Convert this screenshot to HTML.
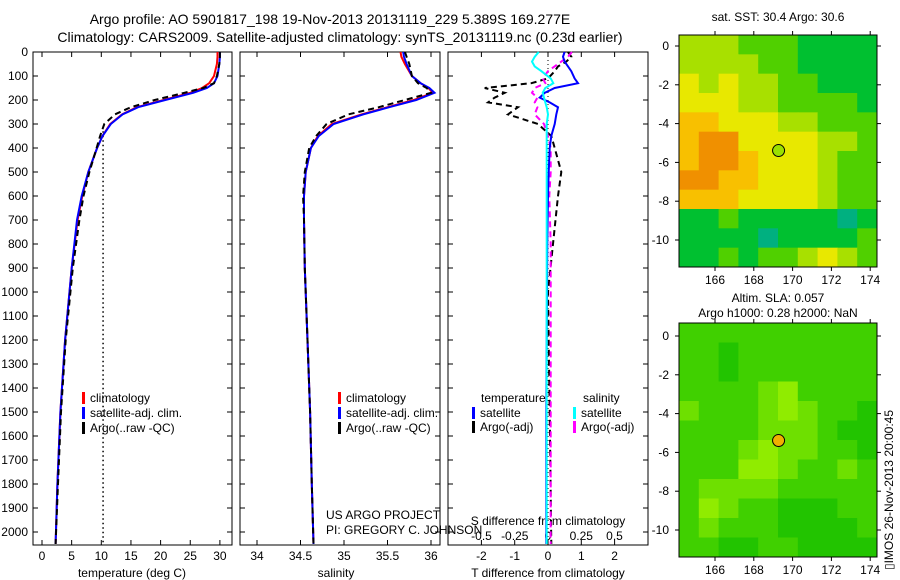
<!DOCTYPE html>
<html><head><meta charset="utf-8"><style>
body{margin:0;background:#fff;}
svg{display:block;font-family:"Liberation Sans",sans-serif;}
</style></head><body>
<svg id="c" width="900" height="580" viewBox="0 0 900 580">
<text x="330" y="24" font-size="14" text-anchor="middle">Argo profile: AO 5901817_198 19-Nov-2013 20131119_229 5.389S 169.277E</text>
<text x="340" y="42" font-size="14" text-anchor="middle">Climatology: CARS2009. Satellite-adjusted climatology: synTS_20131119.nc (0.23d earlier)</text>
<text x="132" y="577" font-size="12" text-anchor="middle">temperature (deg C)</text>
<text x="336" y="577" font-size="12" text-anchor="middle">salinity</text>
<text x="548" y="577" font-size="12" text-anchor="middle">T difference from climatology</text>
<text x="548" y="525" font-size="12" text-anchor="middle">S difference from climatology</text>
<text x="326" y="519" font-size="12">US ARGO PROJECT</text>
<text x="326" y="534" font-size="12">PI: GREGORY C. JOHNSON</text>
<text x="778" y="21" font-size="12" text-anchor="middle">sat. SST: 30.4 Argo: 30.6</text>
<text x="778" y="302" font-size="12" text-anchor="middle">Altim. SLA: 0.057</text>
<text x="778" y="317" font-size="12" text-anchor="middle">Argo h1000: 0.28 h2000: NaN</text>
<text transform="translate(893,570) rotate(-90)" font-size="12">▯IMOS 26-Nov-2013 20:00:45</text>
</svg>
<script>
// ---- data ----
const depthGrid=[0,20,50,100,130,150,170,200,230,260,300,350,400,500,600,700,900,1200,1500,1800,2050];
const tempClim=[29.6,29.6,29.5,29.0,28.2,27.0,25.0,20.5,16.0,13.5,11.5,10.2,9.3,7.8,6.8,6.0,5.0,3.9,3.1,2.6,2.3];
const tempSat=[30.0,30.0,29.9,29.6,29.0,27.8,25.5,20.8,16.2,13.6,11.6,10.2,9.3,7.8,6.7,5.9,5.0,3.9,3.1,2.6,2.3];
const tempArgo=[30.0,30.0,29.9,29.5,29.0,27.2,24.0,19.0,15.0,12.3,10.5,9.8,9.2,8.0,7.0,6.3,5.2,4.0,3.2,2.7,2.3];
const salClim=[35.65,35.66,35.70,35.78,35.88,35.97,36.02,35.80,35.50,35.20,34.86,34.70,34.62,34.56,34.54,34.54,34.55,34.58,34.61,34.63,34.65];
const salSat=[35.68,35.69,35.72,35.78,35.88,35.98,36.04,35.83,35.52,35.22,34.88,34.71,34.62,34.56,34.54,34.54,34.55,34.58,34.61,34.63,34.65];
const salArgo=[35.70,35.72,35.75,35.78,35.85,35.95,36.00,35.70,35.40,35.05,34.80,34.68,34.60,34.55,34.53,34.54,34.55,34.58,34.61,34.63,34.65];
const rawDepthTop=330, rawTemp=10.3;
const diffDepth=[0,20,40,60,80,110,130,150,170,190,210,230,260,300,350,400,500,600,800,1000,1500,2050];
const tDiffSat=[0.5,0.45,0.5,0.6,0.7,0.8,0.9,0.2,-0.1,-0.25,0.05,0.3,0.25,0.2,0.1,0.05,0.02,0.0,-0.02,-0.03,-0.05,-0.05];
const tDiffArgo=[0.6,0.7,0.55,0.3,0.2,0.0,-0.5,-1.9,-1.3,-1.6,-1.8,-0.9,-1.2,-0.3,0.1,0.2,0.4,0.3,0.15,0.0,0.05,0.1];
const sDiffSat=[-0.07,-0.1,-0.12,-0.1,-0.05,0.02,0.04,-0.02,-0.04,-0.03,-0.02,-0.01,0.0,-0.01,-0.01,-0.01,-0.01,-0.01,-0.01,-0.01,-0.01,-0.01];
const sDiffArgo=[0.18,0.15,0.1,0.05,0.0,-0.04,-0.02,-0.1,-0.12,-0.08,-0.1,-0.08,-0.1,-0.03,0.0,0.02,0.02,0.01,0.02,0.02,0.02,0.02];
const tempTicks=[0,5,10,15,20,25,30];
const salTicks=[34,34.5,35,35.5,36];
const tdTicks=[-2,-1,0,1,2];
const sdTicks=["-0.5","-0.25","0","0.25","0.5"];
const depthTicks=[0,100,200,300,400,500,600,700,800,900,1000,1100,1200,1300,1400,1500,1600,1700,1800,1900,2000];
const lonTicks=[166,168,170,172,174];
const latTicks=[0,-2,-4,-6,-8,-10];
const sstGrid=[
[2,2,2,1,1,1,0,0,0,0],[2,2,2,2,1,1,0,0,0,0],[3,2,3,2,2,1,1,0,0,0],[3,3,3,2,2,1,1,1,1,0],
[4,4,3,3,3,2,2,1,1,1],[4,5,5,3,3,3,3,2,2,1],[4,5,5,4,3,3,3,2,1,1],[5,5,4,4,3,3,3,2,1,1],
[4,4,4,3,3,3,3,2,1,1],[0,0,1,0,0,0,0,0,-1,0],[0,0,0,0,-1,0,0,0,0,1],[0,0,1,0,1,1,2,3,2,1]];
const slaGrid=[
[1,1,1,1,1,1,1,1,1,1],[1,1,0,1,1,1,1,1,1,1],[1,1,0,1,1,1,1,1,1,1],[1,1,1,1,2,3,1,1,1,1],
[2,1,1,1,2,3,2,1,1,0],[1,1,1,1,2,2,2,1,0,0],[1,1,1,2,3,2,2,1,1,0],[1,1,1,3,3,2,1,1,2,1],
[1,2,2,2,2,1,1,1,1,1],[1,3,2,1,1,0,0,0,1,1],[1,2,1,1,1,0,0,0,0,1],[1,1,0,0,1,1,0,0,0,0]];
const floatLon=169.277, floatLat=-5.389;

// ---- drawing ----
const svg=document.getElementById('c');
const NS='http://www.w3.org/2000/svg';
function mk(tag,attrs,parent){const e=document.createElementNS(NS,tag);for(const k in attrs)e.setAttribute(k,attrs[k]);(parent||svg).appendChild(e);return e;}
const yD=d=>52+d*0.24;
const xT=t=>42+t*5.93;
const xS=s=>257+(s-34)*87;
const xTD=t=>548+t*33.3;
const xSD=s=>548+s*133;
const PT=545;
function line(xs,fx,ys,col,w,dash,name){
  const pts=xs.map((v,i)=>fx(v).toFixed(1)+','+yD(ys[i]).toFixed(1)).join(' ');
  const p=mk('polyline',{points:pts,fill:'none',stroke:col,'stroke-width':w});
  if(dash)p.setAttribute('stroke-dasharray',dash);
  
  
}
function frame(x0,x1,name){
  const r=mk('rect',{x:x0,y:52,width:x1-x0,height:PT-52,fill:'none',stroke:'#000','stroke-width':1});
  
  
  depthTicks.forEach(d=>{mk('line',{x1:x0,x2:x0+5,y1:yD(d),y2:yD(d),stroke:'#000'});mk('line',{x1:x1,x2:x1-5,y1:yD(d),y2:yD(d),stroke:'#000'});});
}
function txt(x,y,s,anchor,size,name){const t=mk('text',{x:x,y:y,'font-size':size||12,'text-anchor':anchor||'middle'});t.textContent=s;
  
  return t;}
// panel frames
frame(33,232,'temperature-plot-frame');
frame(240,440,'salinity-plot-frame');
frame(448,648,'difference-plot-frame');
depthTicks.forEach(d=>txt(28,yD(d)+4,String(d),'end',12,'depth-tick-label'));
tempTicks.forEach(t=>{mk('line',{x1:xT(t),x2:xT(t),y1:PT,y2:PT-5,stroke:'#000'});mk('line',{x1:xT(t),x2:xT(t),y1:52,y2:57,stroke:'#000'});txt(xT(t),560,String(t),'middle',12,'temperature-tick-label');});
salTicks.forEach(t=>{mk('line',{x1:xS(t),x2:xS(t),y1:PT,y2:PT-5,stroke:'#000'});mk('line',{x1:xS(t),x2:xS(t),y1:52,y2:57,stroke:'#000'});txt(xS(t),560,String(t),'middle',12,'salinity-tick-label');});
tdTicks.forEach(t=>{mk('line',{x1:xTD(t),x2:xTD(t),y1:PT,y2:PT-5,stroke:'#000'});mk('line',{x1:xTD(t),x2:xTD(t),y1:52,y2:57,stroke:'#000'});txt(xTD(t),560,String(t),'middle',12,'t-diff-tick-label');});
sdTicks.forEach(t=>txt(xSD(parseFloat(t)),540,t,'middle',12,'s-diff-tick-label'));
// temperature panel
mk('line',{x1:xT(rawTemp),x2:xT(rawTemp),y1:yD(rawDepthTop),y2:PT,stroke:'#000','stroke-width':1.5,'stroke-dasharray':'1.5 3'});
line(tempClim,xT,depthGrid,'#f00',2,null,'temperature-climatology-line');
line(tempSat,xT,depthGrid,'#00f',2,null,'temperature-satellite-line');
line(tempArgo,xT,depthGrid,'#000',2,'6 4','temperature-argo-line');
// salinity panel
line(salClim,xS,depthGrid,'#f00',2,null,'salinity-climatology-line');
line(salSat,xS,depthGrid,'#00f',2,null,'salinity-satellite-line');
line(salArgo,xS,depthGrid,'#000',2,'6 4','salinity-argo-line');
// difference panel
mk('line',{x1:548,x2:548,y1:52,y2:PT,stroke:'#000','stroke-dasharray':'1 3'});
line(tDiffArgo,xTD,diffDepth,'#000',2,'6 4','t-diff-argo-line');
line(sDiffArgo,xSD,diffDepth,'#f0f',2,'6 4','s-diff-argo-line');
line(tDiffSat,xTD,diffDepth,'#00f',2,null,'t-diff-satellite-line');
line(sDiffSat,xSD,diffDepth,'#0ff',2,null,'s-diff-satellite-line');
// legends
function leg(x,y,col,s,name){const b=mk('rect',{x:x,y:y-10,width:3,height:12,fill:col});
  
  
  txt(x+8,y,s,'start',12,name);}
[[82,'climatology','#f00'],[338,'climatology','#f00']].forEach(a=>leg(a[0],402,a[2],a[1],'legend-climatology'));
[82,338].forEach(x=>{leg(x,417,'#00f','satellite-adj. clim.','legend-satellite-adj');leg(x,432,'#000','Argo(..raw -QC)','legend-argo');});
txt(481,402,'temperature','start',12,'legend-temperature-heading');
txt(583,402,'salinity','start',12,'legend-salinity-heading');
leg(472,417,'#00f','satellite','legend-t-satellite');
leg(472,431,'#000','Argo(-adj)','legend-t-argo');
leg(573,417,'#0ff','satellite','legend-s-satellite');
leg(573,431,'#f0f','Argo(-adj)','legend-s-argo');
// maps
const sstCols={'-1':'#00b080','0':'#00c030','1':'#50d000','2':'#a8e000','3':'#e8e800','4':'#f8c000','5':'#f09000'};
const slaCols={'0':'#22c400','1':'#40d000','2':'#6ee000','3':'#90ec00'};
function map(grid,cols,y0,y1,lat0y,name,markerCol){
  const x0=679,x1=877,w=(x1-x0)/10,h=(y1-y0)/12;
  grid.forEach((row,r)=>row.forEach((v,c)=>{const cell=mk('rect',{x:x0+c*w,y:y0+r*h,width:w+0.5,height:h+0.5,fill:cols[v]});
    
    }));
  const fr=mk('rect',{x:x0,y:y0,width:x1-x0,height:y1-y0,fill:'none',stroke:'#000'});
  
  
  const lx=l=>715+(l-166)*19.4, ly=l=>lat0y-l*19.4;
  lonTicks.forEach(l=>{mk('line',{x1:lx(l),x2:lx(l),y1:y1,y2:y1+4,stroke:'#000'});mk('line',{x1:lx(l),x2:lx(l),y1:y0,y2:y0-4,stroke:'#000'});txt(lx(l),y1+17,String(l),'middle',12,name+'-lon-label');});
  latTicks.forEach(l=>{mk('line',{x1:x0,x2:x0-4,y1:ly(l),y2:ly(l),stroke:'#000'});mk('line',{x1:x1,x2:x1+4,y1:ly(l),y2:ly(l),stroke:'#000'});txt(x0-10,ly(l)+4,String(l),'end',12,name+'-lat-label');});
  const m=mk('circle',{cx:lx(floatLon),cy:ly(floatLat),r:6,fill:markerCol,stroke:'#000'});
  
  
}
map(sstGrid,sstCols,35,267,46,'sst-map','#9be000');
map(slaGrid,slaCols,323,557,336,'sla-map','#f0b000');
</script>
</body></html>
